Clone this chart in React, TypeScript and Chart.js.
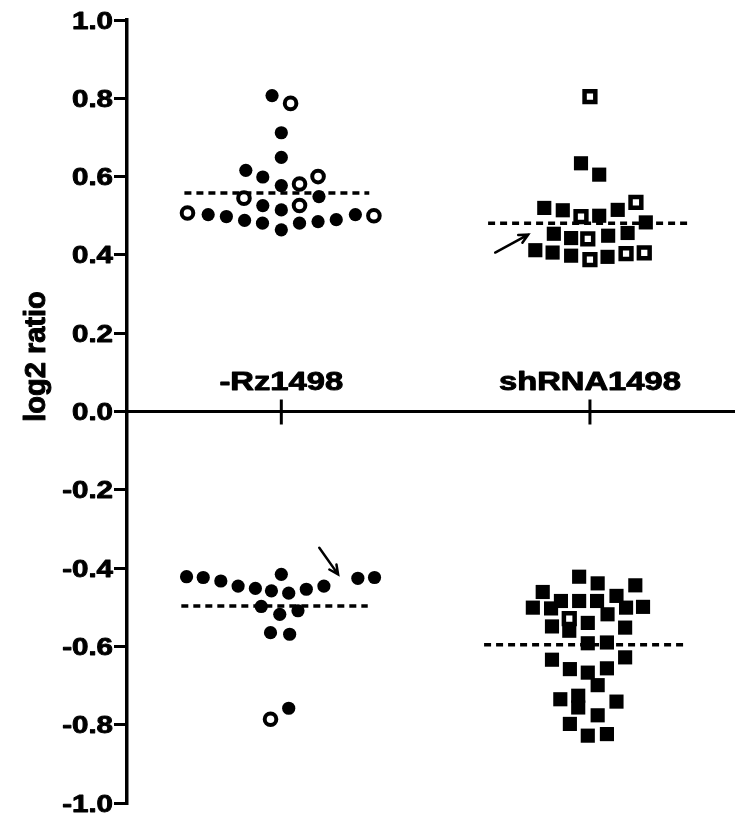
import { useEffect, useRef } from 'react';
import { Chart, registerables } from 'chart.js';

Chart.register(...registerables);

const categories = ['-Rz1498', 'shRNA1498'];
const yTickValues = [-1.0, -0.8, -0.6, -0.4, -0.2, 0.0, 0.2, 0.4, 0.6, 0.8, 1.0];
const axisTitle = 'log2 ratio';

// [offset from category centre, log2 ratio]
const rzUpFilled: [number, number][] = [
  [-0.03, 0.807], [0, 0.712], [0, 0.649], [-0.115, 0.616], [-0.06, 0.599], [0, 0.577],
  [0.122, 0.549], [-0.06, 0.526], [0, 0.515], [-0.237, 0.503], [-0.178, 0.498],
  [-0.119, 0.488], [-0.061, 0.481], [0, 0.464], [0.059, 0.481], [0.119, 0.485],
  [0.178, 0.49], [0.24, 0.503],
];
const rzUpOpen: [number, number][] = [
  [0.03, 0.787], [0.119, 0.6], [0.059, 0.581], [-0.121, 0.545], [0.059, 0.526],
  [-0.304, 0.507], [0.3, 0.5],
];
const rzDownFilled: [number, number][] = [
  [-0.307, -0.422], [-0.253, -0.424], [-0.196, -0.433], [-0.14, -0.446], [-0.084, -0.452],
  [0, -0.416], [-0.032, -0.458], [0.024, -0.464], [0.081, -0.454], [0.138, -0.446],
  [0.248, -0.426], [0.302, -0.424], [-0.065, -0.498], [-0.005, -0.518], [0.054, -0.509],
  [-0.035, -0.565], [0.027, -0.569], [0.024, -0.758],
];
const rzDownOpen: [number, number][] = [[-0.035, -0.786]];

const shUpFilled: [number, number][] = [
  [-0.029, 0.634], [0.03, 0.605], [-0.148, 0.52], [-0.088, 0.514], [0.09, 0.515],
  [0.03, 0.5], [0.181, 0.483], [-0.117, 0.454], [-0.061, 0.443], [0.059, 0.449],
  [0.122, 0.456], [-0.177, 0.412], [-0.121, 0.406], [-0.061, 0.398], [0.057, 0.395],
];
const shUpOpen: [number, number][] = [
  [0, 0.804], [0.149, 0.534], [-0.029, 0.498], [-0.007, 0.441], [0, 0.388],
  [0.117, 0.403], [0.176, 0.405],
];
const shDownFilled: [number, number][] = [
  [-0.035, -0.422], [0.025, -0.439], [0.147, -0.444], [-0.153, -0.461], [0.086, -0.471],
  [-0.094, -0.484], [-0.035, -0.484], [0.023, -0.484], [-0.185, -0.501], [-0.126, -0.503],
  [0.057, -0.518], [0.117, -0.501], [0.172, -0.499], [-0.007, -0.54], [-0.123, -0.549],
  [0.114, -0.552], [-0.067, -0.56], [-0.007, -0.592], [0.055, -0.59], [-0.123, -0.634],
  [0.114, -0.628], [-0.065, -0.658], [-0.007, -0.667], [0.055, -0.656], [0.025, -0.699],
  [-0.096, -0.735], [-0.038, -0.726], [-0.038, -0.756], [0.086, -0.741], [0.025, -0.776],
  [-0.065, -0.798], [-0.007, -0.828], [0.055, -0.824],
];
const shDownOpen: [number, number][] = [[-0.067, -0.529]];

// mean lines: [x start, x end, mean]
const meanLines: [number, number, number][] = [
  [0.686, 1.285, 0.558],
  [1.67, 2.32, 0.481],
  [0.676, 1.28, -0.497],
  [1.657, 2.317, -0.596],
];

// annotation arrows: [x1, y1, x2 (head), y2 (head)]
const arrows: [number, number, number, number][] = [
  [1.693, 0.406, 1.8, 0.452],
  [1.123, -0.348, 1.184, -0.416],
];

const toPoints = (arr: [number, number][], cat: number) =>
  arr.map(([o, v]) => ({ x: cat + 1 + o, y: v }));

const FONT = '"Liberation Sans", Arial, sans-serif';

function stretchedText(ctx: CanvasRenderingContext2D, text: string, x: number, y: number, sx: number, align: CanvasTextAlign) {
  ctx.save();
  ctx.translate(x, y);
  ctx.scale(sx, 1);
  ctx.textAlign = align;
  ctx.textBaseline = 'alphabetic';
  ctx.lineWidth = 0.9;
  ctx.lineJoin = 'round';
  ctx.fillText(text, 0, 0);
  ctx.strokeText(text, 0, 0);
  ctx.restore();
}

const overlayPlugin = {
  id: 'overlay',
  afterDatasetsDraw(chart: any) {
    const { ctx, chartArea } = chart;
    const xs = chart.scales.x;
    const ys = chart.scales.y;
    const y0 = ys.getPixelForValue(0);
    ctx.save();
    ctx.strokeStyle = '#000';
    ctx.fillStyle = '#000';
    ctx.lineWidth = 3;
    ctx.beginPath();
    ctx.moveTo(chartArea.left, y0);
    ctx.lineTo(chart.width, y0);
    ctx.stroke();
    categories.forEach((c, i) => {
      const px = xs.getPixelForValue(i + 1);
      ctx.lineWidth = 3;
      ctx.beginPath();
      ctx.moveTo(px, y0 - 12);
      ctx.lineTo(px, y0 + 13);
      ctx.stroke();
      ctx.font = `bold 25px ${FONT}`;
      stretchedText(ctx, c, px, y0 - 22, 1.31, 'center');
    });
    ctx.font = `bold 24px ${FONT}`;
    yTickValues.forEach((v) => {
      const py = ys.getPixelForValue(v);
      stretchedText(ctx, v.toFixed(1), chartArea.left - 14, py + 8.5, 1.23, 'right');
    });
    ctx.save();
    ctx.translate(37, (chartArea.top + chartArea.bottom) / 2 - 55);
    ctx.rotate(-Math.PI / 2);
    ctx.font = `bold 29px ${FONT}`;
    ctx.textAlign = 'center';
    ctx.textBaseline = 'middle';
    ctx.lineWidth = 1;
    ctx.lineJoin = 'round';
    ctx.fillText(axisTitle, 0, 0);
    ctx.strokeText(axisTitle, 0, 0);
    ctx.restore();
    ctx.lineWidth = 2.5;
    ctx.lineCap = 'round';
    arrows.forEach(([ax1, ay1, ax2, ay2]) => {
      const x1 = xs.getPixelForValue(ax1);
      const y1 = ys.getPixelForValue(ay1);
      const x2 = xs.getPixelForValue(ax2);
      const y2 = ys.getPixelForValue(ay2);
      const ang = Math.atan2(y2 - y1, x2 - x1);
      ctx.beginPath();
      ctx.moveTo(x1, y1);
      ctx.lineTo(x2, y2);
      const h = 10;
      ctx.moveTo(x2 - h * Math.cos(ang - 0.45), y2 - h * Math.sin(ang - 0.45));
      ctx.lineTo(x2, y2);
      ctx.lineTo(x2 - h * Math.cos(ang + 0.45), y2 - h * Math.sin(ang + 0.45));
      ctx.stroke();
    });
    ctx.restore();
  },
};

export default function App() {
  const ref = useRef<HTMLCanvasElement | null>(null);
  useEffect(() => {
    document.body.style.margin = '0';
    if (!ref.current) return;
    const openCircle = { pointStyle: 'circle', pointRadius: 5.8, pointBackgroundColor: '#fff', pointBorderColor: '#000', pointBorderWidth: 4 };
    const filledCircle = { pointStyle: 'circle', pointRadius: 6.6, pointBackgroundColor: '#000', pointBorderColor: '#000', pointBorderWidth: 0 };
    const openSquare = { pointStyle: 'rect', pointRadius: 7.6, pointBackgroundColor: '#fff', pointBorderColor: '#000', pointBorderWidth: 4.5 };
    const filledSquare = { pointStyle: 'rect', pointRadius: 10, pointBackgroundColor: '#000', pointBorderColor: '#000', pointBorderWidth: 0 };
    const datasets: any[] = [
      { label: 'rz up open', data: toPoints(rzUpOpen, 0), ...openCircle },
      { label: 'rz down open', data: toPoints(rzDownOpen, 0), ...openCircle },
      { label: 'sh up open', data: toPoints(shUpOpen, 1), ...openSquare },
      { label: 'sh down open', data: toPoints(shDownOpen, 1), ...openSquare },
      { label: 'rz up', data: toPoints(rzUpFilled, 0), ...filledCircle },
      { label: 'rz down', data: toPoints(rzDownFilled, 0), ...filledCircle },
      { label: 'sh up', data: toPoints(shUpFilled, 1), ...filledSquare },
      { label: 'sh down', data: toPoints(shDownFilled, 1), ...filledSquare },
      ...meanLines.map(([a, b, m], i) => ({
        type: 'line',
        label: 'mean ' + i,
        data: [{ x: a, y: m }, { x: b, y: m }],
        borderColor: '#000',
        borderWidth: 3.5,
        borderDash: [7, 5],
        pointRadius: 0,
        showLine: true,
        fill: false,
      })),
    ];
    const chart = new Chart(ref.current, {
      type: 'scatter',
      data: { datasets },
      plugins: [overlayPlugin],
      options: {
        animation: false,
        responsive: true,
        maintainAspectRatio: false,
        layout: { autoPadding: false, padding: { top: 20, bottom: 14, left: 0, right: 0 } },
        plugins: { legend: { display: false }, tooltip: { enabled: false } },
        scales: {
          x: { type: 'linear', min: 0.5, max: 2.47, display: false },
          y: {
            type: 'linear',
            min: -1,
            max: 1,
            afterBuildTicks: (s: any) => {
              s.ticks = yTickValues.map((v) => ({ value: v }));
            },
            afterFit: (s: any) => {
              s.width = 127;
            },
            ticks: { display: false },
            grid: { drawOnChartArea: false, drawTicks: true, tickLength: 13, color: '#000', lineWidth: 3 },
            border: { display: true, color: '#000', width: 3.5 },
          },
        },
      } as any,
    });
    return () => chart.destroy();
  }, []);
  return (
    <div style={{ width: 735, height: 817, position: 'relative', background: '#fff' }}>
      <canvas ref={ref} />
    </div>
  );
}
